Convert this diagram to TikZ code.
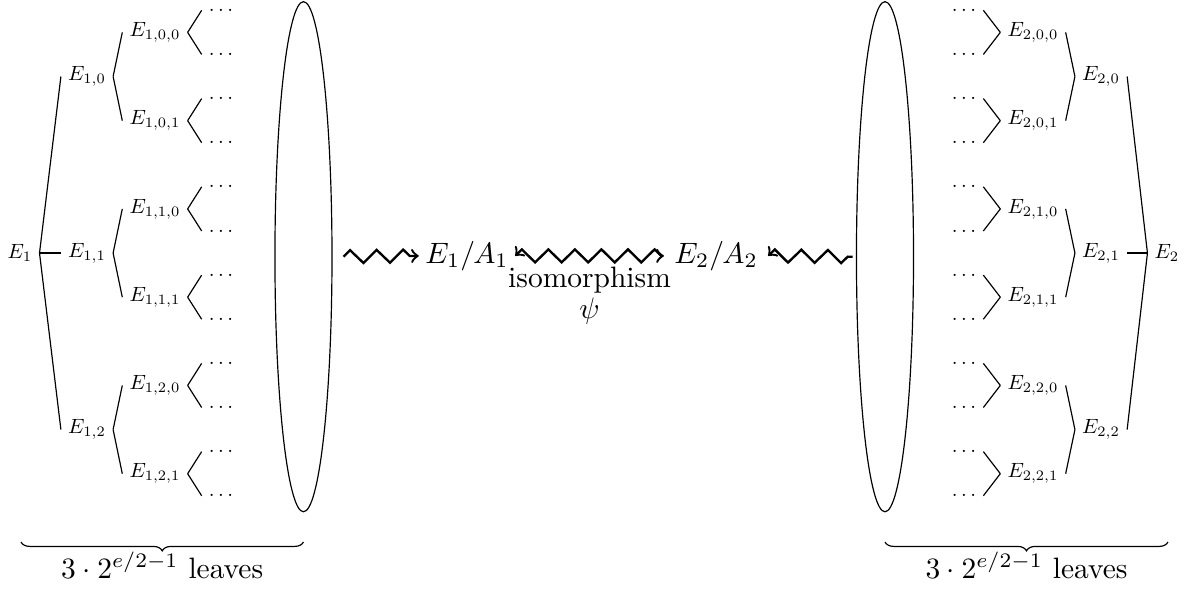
\documentclass[tikz,border=0pt]{standalone}
\usepackage{amsmath, amssymb}
\usepackage{tikz}
\usetikzlibrary{calc, shapes.geometric, positioning, decorations.pathmorphing, decorations.pathreplacing}

\begin{document}
\begin{tikzpicture}[
    leaf/.style={scale=0.7},
    bag/.style={draw, ellipse, inner sep=0pt, minimum width=0.68cm, minimum height=6.08cm},
    squig/.style={thick, decorate, decoration={zigzag, segment length=9pt, amplitude=2.2pt}}
  ]
    % Khung của hình
    \useasboundingbox (0,0) rectangle (14.243,-7.044);

    % Cây bên trái, gốc E_1
    \node[leaf] (T) at (0.238,-3.016) {$E_1$};
    \foreach \i/\dy in {0/2.104, 1/0, 2/-2.104} {
        \node[leaf] (T\i) at (1.037,{-3.016+\dy}) {$E_{1,\i}$};
        \draw (T.east) -- (T\i.west);
        \foreach \j/\ey in {0/0.526, 1/-0.526} {
            \node[leaf] (T\i\j) at (1.847,{-3.016+\dy+\ey}) {$E_{1,\i,\j}$};
            \draw (T\i.east) -- (T\i\j.west);
            \foreach \k/\fy in {0/0.263, 1/-0.263} {
                \node[leaf] (T\i\j\k) at (2.634,{-3.016+\dy+\ey+\fy}) {$\ldots$};
                \draw (T\i\j.east) -- (T\i\j\k.west);
            }
        }
    }

    % Cây bên phải, gốc E_2 (mọc sang trái)
    \node[leaf] (S) at (13.909,-3.016) {$E_2$};
    \foreach \i/\dy in {0/2.104, 1/0, 2/-2.104} {
        \node[leaf] (S\i) at (13.123,{-3.016+\dy}) {$E_{2,\i}$};
        \draw (S.west) -- (S\i.east);
        \foreach \j/\ey in {0/0.526, 1/-0.526} {
            \node[leaf] (S\i\j) at (12.312,{-3.016+\dy+\ey}) {$E_{2,\i,\j}$};
            \draw (S\i.west) -- (S\i\j.east);
            \foreach \k/\fy in {0/0.263, 1/-0.263} {
                \node[leaf] (S\i\j\k) at (11.490,{-3.016+\dy+\ey+\fy}) {$\ldots$};
                \draw (S\i\j.west) -- (S\i\j\k.east);
            }
        }
    }

    % Hai hình elip bao các lá
    \node[bag] (bagL) at (3.617,-3.06) {};
    \node[bag] (bagR) at (10.548,-3.06) {};

    % Các thương E_i/A_i
    \node[inner sep=2pt] (QL) at (5.566,-3.05) {$E_1/A_1$};
    \node (QR) at (8.534,-3.05) {$E_2/A_2$};

    % Mũi tên răng cưa
    \coordinate (zL) at ([xshift=0.13cm]bagL.east);
    \coordinate (zR) at ([xshift=-0.04cm]bagR.west);
    \draw[squig, ->] (zL) -- (QL.west);
    \draw[squig, <->] (QL.east) -- (QR.west)
        node[midway, below] {$\underset{\textstyle\psi}{\text{isomorphism}}$};
    \draw[squig, <-] (QR.east) -- (zR);

    % Dấu ngoặc nhọn đếm số lá
    \coordinate (bL1) at (0.25,-6.46);
    \coordinate (bL2) at (3.617,-6.46);
    \coordinate (bR1) at (10.548,-6.46);
    \coordinate (bR2) at (13.921,-6.46);
    \draw[decorate, decoration={brace, mirror, amplitude=3pt}] (bL1) -- (bL2)
        node[midway, below] {$3\cdot 2^{e/2-1}$ leaves};
    \draw[decorate, decoration={brace, mirror, amplitude=3pt}] (bR1) -- (bR2)
        node[midway, below] {$3\cdot 2^{e/2-1}$ leaves};

\end{tikzpicture}
\end{document}
